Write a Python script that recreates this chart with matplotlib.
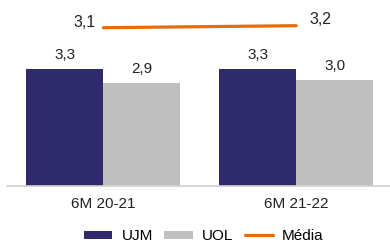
import matplotlib
matplotlib.use("Agg")
import matplotlib.pyplot as plt
import numpy as np

plt.rcParams['font.family'] = ['Liberation Sans', 'DejaVu Sans']

categories = ["6M 20-21", "6M 21-22"]
ujm = [3.3, 3.3]
uol = [2.9, 3.0]
media = [3.1, 3.2]
ujm_labels = ["3,3", "3,3"]
uol_labels = ["2,9", "3,0"]
media_labels = ["3,1", "3,2"]

c_ujm = "#2E2A6B"
c_uol = "#BFBFBF"
c_med = "#E46C0A"
fs = 11

fig = plt.figure(figsize=(3.9, 2.45), dpi=100)
ax = fig.add_axes([7/390, 59/245, 383/390, 181/245])
x = np.arange(len(categories))
w = 0.4
b1 = ax.bar(x - w/2, ujm, w, color=c_ujm, label="UJM")
b2 = ax.bar(x + w/2, uol, w, color=c_uol, label="UOL")
ax.set_xlim(-0.5, 1.487)
ax.set_ylim(0, 5.1)
for bars, labs in ((b1, ujm_labels), (b2, uol_labels)):
    for r, t in zip(bars, labs):
        ax.annotate(t, (r.get_x() + r.get_width()/2, r.get_height()),
                    xytext=(0, 14), textcoords='offset pixels',
                    ha='center', va='center', fontsize=fs, color='#222222')
for s in ['top', 'right', 'left']:
    ax.spines[s].set_visible(False)
ax.spines['bottom'].set_color('#D0D0D0')
ax.spines['bottom'].set_linewidth(1.2)
ax.set_yticks([])
ax.set_xticks(x)
ax.set_xticklabels(categories, fontsize=fs, color='#222222')
ax.tick_params(axis='x', length=0, pad=8)

ax2 = ax.twinx()
ax2.set_ylim(-4.815, 4.235)
ln, = ax2.plot(x, media, color=c_med, lw=2.3, solid_capstyle='round', label="Média")
ax2.axis('off')
ax2.annotate(media_labels[0], (x[0], media[0]), xytext=(-8, 5), textcoords='offset pixels',
             ha='right', va='center', fontsize=11.5, color='#222222')
ax2.annotate(media_labels[1], (x[1], media[1]), xytext=(13, 6), textcoords='offset pixels',
             ha='left', va='center', fontsize=11.5, color='#222222')

fig.legend(handles=[b1, b2, ln], labels=["UJM", "UOL", "Média"], loc='center',
           bbox_to_anchor=(0.523, 0.036), ncol=3, frameon=False, fontsize=fs,
           handlelength=1.85, handleheight=0.45, handletextpad=0.6, columnspacing=0.75,
           borderpad=0, borderaxespad=0)

fig.savefig("out.png", dpi=100)
